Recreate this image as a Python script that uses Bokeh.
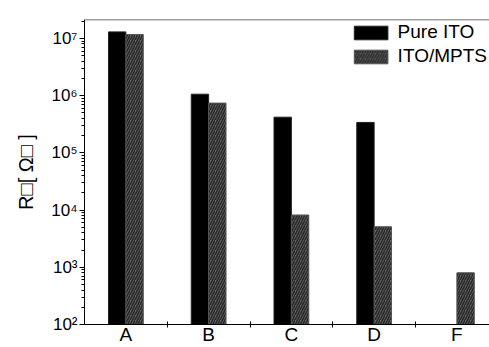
import math
from bokeh.plotting import figure
from bokeh.models import (Range1d, FixedTicker, Span, Title,
                          ColumnDataSource, Legend, LegendItem)
from bokeh.embed import file_html
from bokeh.resources import INLINE

# ---- data ----
categories = ["A", "B", "C", "D", "F"]
pure_ito = [1.3e7, 1.06e6, 4.2e5, 3.4e5, float("nan")]
ito_mpts = [1.17e7, 7.4e5, 8.2e3, 5.1e3, 8.0e2]
y_ticks = [1e2, 1e3, 1e4, 1e5, 1e6, 1e7]
y_tick_labels = ["10²", "10³", "10⁴", "10⁵", "10⁶", "10⁷"]
series_names = ["Pure ITO", "ITO/MPTS"]
y_title = "R□[ Ω□ ]"

FONT = "Liberation Sans"

W, H = 489, 347
LEFT, TOP, BOTTOM = 84, 19, 22
x_end = 4.894
y_min, y_max = 1e2, 2.14e7

centers = [i + 0.5 for i in range(len(categories))]
bar_w = 0.21
src = ColumnDataSource(dict(
    x1=[c - bar_w / 2 for c in centers],
    x2=[c + bar_w / 2 for c in centers],
    pure=pure_ito,
    mpts=ito_mpts,
))

p = figure(width=W, height=H, output_backend="svg", toolbar_location=None,
           y_axis_type="log",
           x_range=Range1d(0, x_end), y_range=Range1d(y_min, y_max),
           min_border_left=LEFT, min_border_right=0, min_border_top=TOP,
           min_border_bottom=BOTTOM)
p.outline_line_color = None
p.xgrid.visible = False
p.ygrid.visible = False
p.background_fill_color = "white"
p.border_fill_color = "white"

r1 = p.vbar(x="x1", top="pure", bottom=y_min, width=bar_w, source=src,
            fill_color="black", line_color="#222222", line_width=1)
r2 = p.vbar(x="x2", top="mpts", bottom=y_min, width=bar_w, source=src,
            fill_color="#6a6a6a", line_color="#555555", line_width=1,
            hatch_pattern="/", hatch_color="#262626", hatch_scale=5,
            hatch_weight=1.6)

# y axis
y_minor = [m * 10 ** k for k in range(2, 8) for m in range(2, 10) if m * 10 ** k <= y_max]
yax = p.yaxis[0]
yax.ticker = FixedTicker(ticks=y_ticks, minor_ticks=y_minor)
yax.major_label_overrides = {t: l for t, l in zip(y_ticks, y_tick_labels)}
yax.major_label_text_font = FONT
yax.major_label_text_font_size = "17px"
yax.major_label_text_color = "black"
yax.major_label_standoff = 2
yax.major_tick_in = 0
yax.major_tick_out = 5
yax.minor_tick_in = 0
yax.minor_tick_out = 3
yax.axis_line_color = "black"
yax.major_tick_line_color = "black"
yax.minor_tick_line_color = "black"

# x axis: labels at category centres, ticks at category boundaries
xax = p.xaxis[0]
xax.ticker = FixedTicker(ticks=centers, minor_ticks=list(range(1, len(categories))))
xax.major_label_overrides = {c: cat for c, cat in zip(centers, categories)}
xax.major_label_text_font = FONT
xax.major_label_text_font_size = "19px"
xax.major_label_text_color = "black"
xax.major_label_standoff = -4
xax.minor_tick_in = 3
xax.minor_tick_out = 3
xax.major_tick_in = 0
xax.major_tick_out = 0
xax.axis_line_color = "black"
xax.minor_tick_line_color = "black"

# top frame line
p.add_layout(Span(location=y_max, dimension="width", line_color="#444444", line_width=1.5))

# rotated y-axis title
p.add_layout(Title(text=y_title, align="center", offset=-16, standoff=23,
                   text_font=FONT, text_font_size="20px", text_font_style="normal",
                   text_color="black"), "left")

legend = Legend(items=[LegendItem(label=series_names[0], renderers=[r1]),
                       LegendItem(label=series_names[1], renderers=[r2])],
                location="top_right", padding=0, margin=2,
                spacing=2, glyph_width=42, glyph_height=17,
                label_standoff=6, border_line_color=None,
                background_fill_alpha=0,
                label_text_font=FONT, label_text_font_size="19px",
                label_text_color="black")
p.add_layout(legend)

open("out.html", "w").write(file_html(p, INLINE))
